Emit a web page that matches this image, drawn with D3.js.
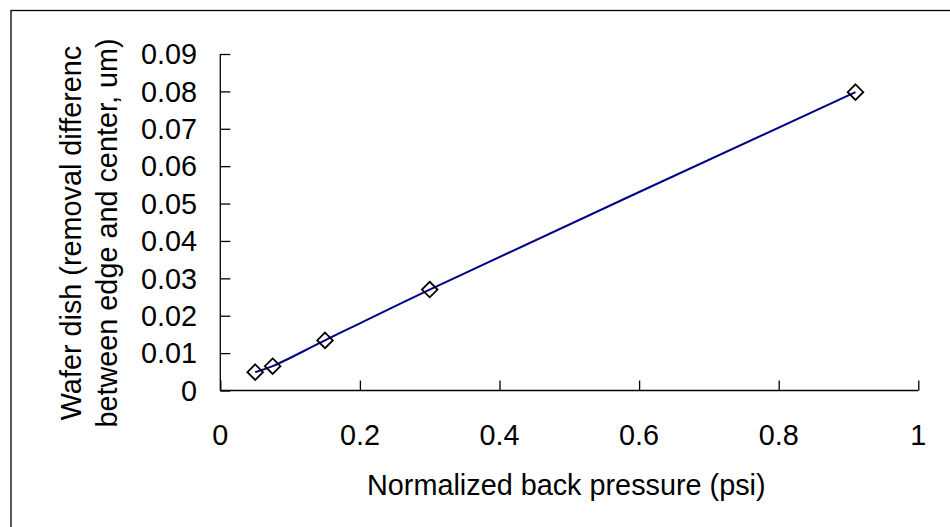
<!DOCTYPE html>
<html>
<head>
<meta charset="utf-8">
<script src="https://cdn.jsdelivr.net/npm/d3@7/dist/d3.min.js"></script>
<style>
  html, body { margin: 0; padding: 0; background: #fff; }
  svg { display: block; }
  text { font-family: "Liberation Sans", Arial, sans-serif; fill: #000; }
</style>
</head>
<body>
<svg id="chart" width="950" height="527"></svg>
<script>
// Measured points: normalized back pressure vs. wafer dish
const pressure = [0.05, 0.075, 0.15, 0.3, 0.91];
const dish = [0.0049, 0.0065, 0.0134, 0.027, 0.0798];

const xTicks = [0, 0.2, 0.4, 0.6, 0.8, 1];
const yTicks = [0, 0.01, 0.02, 0.03, 0.04, 0.05, 0.06, 0.07, 0.08, 0.09];

const xTitle = "Normalized back pressure (psi)";
const yTitleLines = ["Wafer dish (removal differenc", "between edge and center, um)"];

const svg = d3.select("#chart");
const W = 950, H = 527;
const fontSize = 28.8;

// Plot area bounds
const plotL = 220.3, plotR = 918.3, plotT = 54, plotB = 390.5;

const x = d3.scaleLinear().domain([0, 1]).range([plotL, plotR]);
const y = d3.scaleLinear().domain([0, 0.09]).range([plotB, plotT]);

// Outer chart frame (runs off the right and bottom edges)
svg.append("rect")
  .attr("x", 11).attr("y", 10.5)
  .attr("width", W).attr("height", H)
  .attr("fill", "none").attr("stroke", "#000").attr("stroke-width", 1.3);

// X axis: ticks point up into the plot
const xAxis = d3.axisTop(x).tickValues(xTicks).tickSize(10).tickFormat("");
const gx = svg.append("g").attr("transform", `translate(0,${plotB})`).call(xAxis);
gx.select(".domain").attr("d", `M${plotL},0H${plotR}`);
gx.selectAll("path, line").attr("stroke", "#000").attr("stroke-width", 1.3);

// Y axis: ticks point right into the plot
const yAxis = d3.axisRight(y).tickValues(yTicks).tickSize(10).tickFormat("");
const gy = svg.append("g").attr("transform", `translate(${plotL},0)`).call(yAxis);
gy.select(".domain").attr("d", `M0,${plotB}V${plotT}`);
gy.selectAll("path, line").attr("stroke", "#000").attr("stroke-width", 1.3);

// Tick labels
svg.append("g").selectAll("text")
  .data(xTicks).join("text")
  .attr("x", d => x(d)).attr("y", 445)
  .attr("text-anchor", "middle")
  .attr("font-size", fontSize)
  .text(d => d3.format("~g")(d));

svg.append("g").selectAll("text")
  .data(yTicks).join("text")
  .attr("x", 197).attr("y", d => y(d))
  .attr("dy", "0.355em")
  .attr("text-anchor", "end")
  .attr("font-size", fontSize)
  .text(d => d === 0 ? "0" : d3.format(".2f")(d));

// Axis titles
svg.append("text")
  .attr("x", (plotL + plotR) / 2 - 3).attr("y", 495)
  .attr("text-anchor", "middle")
  .attr("font-size", fontSize)
  .text(xTitle);

const yTitle = svg.append("g");
yTitleLines.forEach((line, i) => {
  yTitle.append("text")
    .attr("transform", `translate(${81 + i * 36},233) rotate(-90)`)
    .attr("text-anchor", "middle")
    .attr("font-size", fontSize)
    .text(line);
});

// Smoothed series line
const pts = pressure.map((p, i) => [p, dish[i]]);
const lineGen = d3.line()
  .x(d => x(d[0])).y(d => y(d[1]))
  .curve(d3.curveCatmullRom.alpha(0.5));

svg.append("path")
  .datum(pts)
  .attr("d", lineGen)
  .attr("fill", "none")
  .attr("stroke", "#000088")
  .attr("stroke-width", 2);

// Diamond markers
const diamond = d3.symbol().type(d3.symbolDiamond2).size(155);
svg.append("g").selectAll("path")
  .data(pts).join("path")
  .attr("transform", d => `translate(${x(d[0])},${y(d[1])})`)
  .attr("d", diamond)
  .attr("fill", "none")
  .attr("stroke", "#000")
  .attr("stroke-width", 1.8);
</script>
</body>
</html>
